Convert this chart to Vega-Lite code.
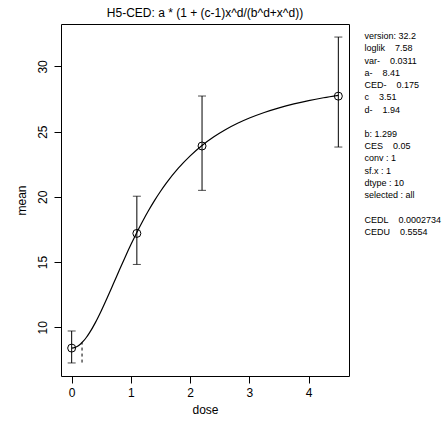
{
  "$schema": "https://vega.github.io/schema/vega-lite/v6.json",
  "background": "white",
  "padding": {"left": 14, "top": 6, "right": 0, "bottom": 0},
  "bounds": "flush",
  "spacing": 15,
  "config": {
    "font": "Liberation Sans",
    "view": {"stroke": null},
    "axis": {"domain": false, "grid": false, "ticks": true, "tickSize": 7, "tickColor": "black", "tickWidth": 1, "labelFontSize": 12, "labelColor": "black", "titleFontSize": 12, "titleFontWeight": "normal", "titleColor": "black", "labelFont": "Liberation Sans", "titleFont": "Liberation Sans"}
  },
  "datasets": {
    "curve": [
      {"dose": 0, "mean": 8.41}, {"dose": 0.05, "mean": 8.448}, {"dose": 0.1, "mean": 8.555}, {"dose": 0.15, "mean": 8.726},
      {"dose": 0.2, "mean": 8.955}, {"dose": 0.25, "mean": 9.239}, {"dose": 0.3, "mean": 9.572}, {"dose": 0.4, "mean": 10.36},
      {"dose": 0.5, "mean": 11.273}, {"dose": 0.6, "mean": 12.266}, {"dose": 0.7, "mean": 13.298}, {"dose": 0.8, "mean": 14.338},
      {"dose": 0.9, "mean": 15.359}, {"dose": 1.0, "mean": 16.342}, {"dose": 1.1, "mean": 17.277}, {"dose": 1.2, "mean": 18.154},
      {"dose": 1.3, "mean": 18.972}, {"dose": 1.4, "mean": 19.73}, {"dose": 1.5, "mean": 20.428}, {"dose": 1.6, "mean": 21.07},
      {"dose": 1.8, "mean": 22.197}, {"dose": 2.0, "mean": 23.142}, {"dose": 2.2, "mean": 23.934}, {"dose": 2.4, "mean": 24.599},
      {"dose": 2.6, "mean": 25.16}, {"dose": 2.8, "mean": 25.637}, {"dose": 3.0, "mean": 26.043}, {"dose": 3.25, "mean": 26.47},
      {"dose": 3.5, "mean": 26.827}, {"dose": 3.75, "mean": 27.126}, {"dose": 4.0, "mean": 27.379}, {"dose": 4.25, "mean": 27.595},
      {"dose": 4.5, "mean": 27.78}
    ],
    "obs": [
      {"dose": 0, "mean": 8.41, "lo": 7.27, "hi": 9.72},
      {"dose": 1.1, "mean": 17.2, "lo": 14.82, "hi": 20.05},
      {"dose": 2.2, "mean": 23.9, "lo": 20.5, "hi": 27.73},
      {"dose": 4.5, "mean": 27.72, "lo": 23.82, "hi": 32.25}
    ],
    "ced": [
      {"dose": 0.175, "lo": 7.3, "hi": 8.83}
    ],
    "info": [
      {"line": 1, "label": "version: 32.2"},
      {"line": 2, "label": "loglik\u00a0\u00a0\u00a0\u00a07.58"},
      {"line": 3, "label": "var-\u00a0\u00a0\u00a0\u00a00.0311"},
      {"line": 4, "label": "a-\u00a0\u00a0\u00a0\u00a08.41"},
      {"line": 5, "label": "CED-\u00a0\u00a0\u00a0\u00a00.175"},
      {"line": 6, "label": "c\u00a0\u00a0\u00a0\u00a03.51"},
      {"line": 7, "label": "d-\u00a0\u00a0\u00a0\u00a01.94"},
      {"line": 8, "label": ""},
      {"line": 9, "label": "b: 1.299"},
      {"line": 10, "label": "CES\u00a0\u00a0\u00a0\u00a00.05"},
      {"line": 11, "label": "conv : 1"},
      {"line": 12, "label": "sf.x : 1"},
      {"line": 13, "label": "dtype : 10"},
      {"line": 14, "label": "selected : all"},
      {"line": 15, "label": ""},
      {"line": 16, "label": "CEDL\u00a0\u00a0\u00a0\u00a00.0002734"},
      {"line": 17, "label": "CEDU\u00a0\u00a0\u00a0\u00a00.5554"}
    ]
  },
  "hconcat": [
    {
      "width": 288,
      "height": 352,
      "view": {"stroke": "black", "strokeWidth": 1},
      "title": {"text": "H5-CED: a * (1 + (c-1)x^d/(b^d+x^d))", "fontSize": 12, "fontWeight": "normal", "font": "Liberation Sans", "color": "black", "frame": "group", "anchor": "middle", "offset": 4},
      "encoding": {
        "x": {"field": "dose", "type": "quantitative", "title": "dose",
              "scale": {"domain": [-0.18, 4.68], "nice": false, "zero": false},
              "axis": {"values": [0, 1, 2, 3, 4], "labelPadding": 4, "titlePadding": 6}},
        "y": {"field": "mean", "type": "quantitative", "title": "mean",
              "scale": {"domain": [6.27, 33.25], "nice": false, "zero": false},
              "axis": {"values": [10, 15, 20, 25, 30], "labelAngle": 270, "labelAlign": "center", "labelBaseline": "bottom", "labelPadding": 5, "titlePadding": 8}}
      },
      "layer": [
        {"data": {"name": "curve"}, "mark": {"type": "line", "color": "black", "strokeWidth": 1.2, "interpolate": "monotone"}},
        {"data": {"name": "obs"}, "mark": {"type": "errorbar", "ticks": true, "size": 8, "thickness": 1, "color": "black"},
         "encoding": {"y": {"field": "lo", "type": "quantitative", "title": "mean"}, "y2": {"field": "hi"}}},
        {"data": {"name": "obs"}, "mark": {"type": "point", "shape": "circle", "filled": false, "size": 64, "strokeWidth": 1, "color": "black", "opacity": 1}},
        {"data": {"name": "ced"}, "mark": {"type": "rule", "color": "black", "strokeWidth": 1, "strokeDash": [3, 3]},
         "encoding": {"y": {"field": "lo", "type": "quantitative", "title": "mean"}, "y2": {"field": "hi"}}}
      ]
    },
    {
      "width": 1,
      "height": {"step": 12},
      "data": {"name": "info"},
      "mark": {"type": "text", "align": "left", "baseline": "middle", "fontSize": 9, "font": "Liberation Sans", "color": "black"},
      "encoding": {
        "y": {"field": "line", "type": "ordinal", "axis": null, "scale": {"type": "point", "padding": 1.17}},
        "text": {"field": "label"}
      }
    }
  ]
}
